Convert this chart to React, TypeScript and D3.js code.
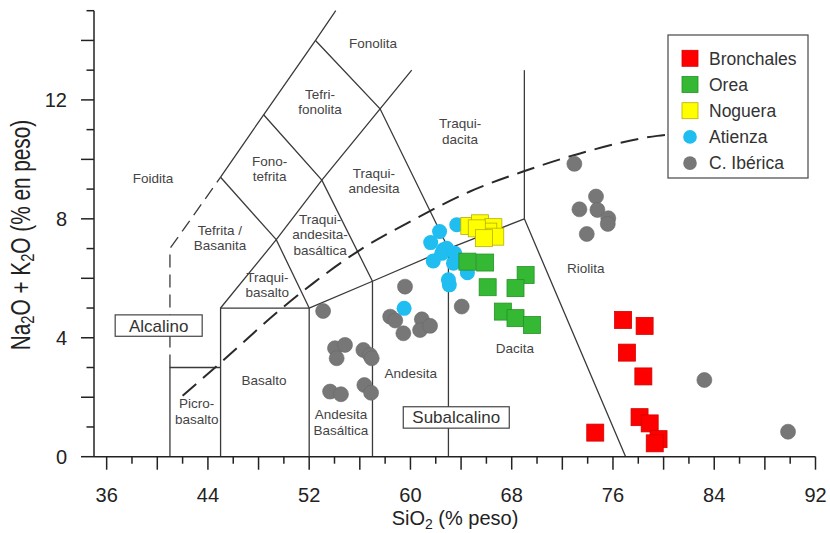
import React from "react";
import * as d3 from "d3";

// ---- Data ----
const bronchales: [number, number][] = [
  [76.8, 4.6], [78.5, 4.4], [77.1, 3.5], [78.4, 2.7], [78.1, 1.33],
  [78.9, 1.12], [79.6, 0.59], [79.3, 0.45], [74.6, 0.81],
];
const orea: [number, number][] = [
  [64.5, 6.56], [65.9, 6.53], [66.1, 5.7], [69.1, 6.11], [68.3, 5.67],
  [67.3, 4.88], [68.3, 4.66], [69.6, 4.43],
];
const noguera: [number, number][] = [
  [64.65, 7.76], [65.5, 7.85], [66.55, 7.72], [66.15, 7.57], [65.24, 7.68],
  [66.7, 7.4], [65.8, 7.35],
];
const atienza: [number, number][] = [
  [62.3, 7.57], [63.66, 7.8], [61.6, 7.2], [62.6, 6.96], [62.86, 7.01],
  [62.47, 6.84], [63.5, 6.84], [61.8, 6.58], [63.4, 6.51], [64.5, 6.19],
  [63.0, 5.95], [63.07, 5.78], [59.5, 4.99],
];
const iberica: [number, number][] = [
  [53.1, 4.9], [59.57, 5.72], [64.05, 5.05], [58.4, 4.71], [58.8, 4.58],
  [59.44, 4.15], [60.9, 4.62], [60.76, 4.26], [61.55, 4.4],
  [54.04, 3.65], [54.83, 3.76], [54.17, 3.31],
  [56.28, 3.59], [56.8, 3.42], [56.94, 3.31],
  [53.65, 2.19], [54.51, 2.1], [56.36, 2.41], [56.89, 2.15],
  [72.95, 9.85], [74.66, 8.75], [73.35, 8.32], [74.77, 8.3], [75.63, 8.02],
  [75.59, 7.83], [73.93, 7.49], [83.22, 2.58], [89.83, 0.84],
];

const legendNames = ["Bronchales", "Orea", "Noguera", "Atienza", "C. Ibérica"];

const xTickLabels = [36, 44, 52, 60, 68, 76, 84, 92];
const yTickLabels = [0, 4, 8, 12];

// TAS field boundaries (SiO2, Na2O+K2O)
const solidLines: [number, number][][] = [
  [[41, 0], [41, 3], [45, 3]],
  [[45, 0], [45, 5], [52, 5], [52, 0]],
  [[45, 5], [49.4, 7.3], [52, 5]],
  [[52, 5], [57, 5.9], [63, 7], [69, 8], [77, 0]],
  [[57, 0], [57, 5.9]],
  [[63, 0], [63, 7]],
  [[69, 8], [69, 13]],
  [[45, 9.4], [48.4, 11.5], [52.5, 14], [54.1, 15]],
  [[45, 9.4], [49.4, 7.3]],
  [[48.4, 11.5], [53, 9.3], [57, 5.9]],
  [[49.4, 7.3], [53, 9.3], [57.6, 11.7], [60.1, 13]],
  [[52.5, 14], [57.6, 11.7], [63, 7]],
];
const dashedLines: [number, number][][] = [
  [[41, 3], [41, 7], [45, 9.4]],
];
// Alkaline / subalkaline divide
const alkCurve: [number, number][] = [
  [42.0, 2.05], [44.95, 3.14], [49.7, 4.94], [52.3, 5.83], [56.0, 6.95],
  [60.2, 7.96], [64.7, 8.92], [68.9, 9.59], [73.4, 10.2], [79.5, 10.79],
  [82.1, 10.88],
];

const fieldLabels: { lines: string[]; x: number; y: number }[] = [
  { lines: ["Fonolita"], x: 57.04, y: 13.74 },
  { lines: ["Tefri-", "fonolita"], x: 52.86, y: 12.04 },
  { lines: ["Fono-", "tefrita"], x: 48.87, y: 9.78 },
  { lines: ["Foidita"], x: 39.66, y: 9.22 },
  { lines: ["Traqui-", "andesita"], x: 57.12, y: 9.38 },
  { lines: ["Traqui-", "dacita"], x: 63.92, y: 11.05 },
  { lines: ["Tefrita /", "Basanita"], x: 44.95, y: 7.46 },
  { lines: ["Traqui-", "andesita-", "basáltica"], x: 52.86, y: 7.83 },
  { lines: ["Traqui-", "basalto"], x: 48.69, y: 5.89 },
  { lines: ["Basalto"], x: 48.43, y: 2.41 },
  { lines: ["Andesita"], x: 60.02, y: 2.64 },
  { lines: ["Dacita"], x: 68.26, y: 3.48 },
  { lines: ["Riolita"], x: 73.85, y: 6.19 },
  { lines: ["Picro-", "basalto"], x: 43.11, y: 1.63 },
  { lines: ["Andesita", "Basáltica"], x: 54.51, y: 1.26 },
];

const seriesBoxes: { text: string; x: number; y: number; w: number }[] = [
  { text: "Alcalino", x: 40.11, y: 4.41, w: 87 },
  { text: "Subalcalino", x: 63.62, y: 1.32, w: 106 },
];

// ---- Chart ----
const W = 830;
const H = 533;
const FONT = "'Liberation Sans', Arial, Helvetica, sans-serif";

export default function App() {
  const x = d3.scaleLinear().domain([35, 92]).range([94, 815.5]);
  const y = d3.scaleLinear().domain([0, 15]).range([456.7, 10.7]);
  const line = d3.line<[number, number]>().x((d) => x(d[0])).y((d) => y(d[1]));
  const curve = d3
    .line<[number, number]>()
    .x((d) => x(d[0]))
    .y((d) => y(d[1]))
    .curve(d3.curveMonotoneX);

  const xTicks = d3.range(36, 92.01, 2);
  const yTicks = d3.range(0, 15.01, 1);

  const sq = 17;
  const r = 7.5;

  const colors = {
    red: { fill: "#ff0000", stroke: "#d40000" },
    green: { fill: "#35b935", stroke: "#239323" },
    yellow: { fill: "#ffff00", stroke: "#b5b000" },
    cyan: { fill: "#1fbdf0", stroke: "#1fbdf0" },
    gray: { fill: "#777777", stroke: "#6a6a6a" },
  };
  const legendStyles = [
    { shape: "square", ...colors.red },
    { shape: "square", ...colors.green },
    { shape: "square", ...colors.yellow },
    { shape: "circle", ...colors.cyan },
    { shape: "circle", ...colors.gray },
  ];

  const lineColor = "#3a3a3a";

  return (
    <svg
      width={W}
      height={H}
      style={{ position: "absolute", left: 0, top: 0, background: "#fff" }}
      fontFamily={FONT}
    >
      <rect x={0} y={0} width={W} height={H} fill="#fff" />

      {/* field boundaries */}
      {solidLines.map((pts, i) => (
        <path key={"s" + i} d={line(pts) || ""} fill="none" stroke={lineColor} strokeWidth={1.3} />
      ))}
      {dashedLines.map((pts, i) => (
        <path
          key={"d" + i}
          d={line(pts) || ""}
          fill="none"
          stroke={lineColor}
          strokeWidth={1.3}
          strokeDasharray="13 7"
        />
      ))}
      <path
        d={curve(alkCurve) || ""}
        fill="none"
        stroke="#2a2a2a"
        strokeWidth={2}
        strokeDasharray="18 9"
      />

      {/* field labels */}
      {fieldLabels.map((lb, i) => (
        <text
          key={"l" + i}
          x={x(lb.x)}
          y={y(lb.y)}
          textAnchor="middle"
          fontSize={13.5}
          fill="#444"
        >
          {lb.lines.map((t, j) => (
            <tspan key={j} x={x(lb.x)} dy={j === 0 ? 0 : 15.5}>
              {t}
            </tspan>
          ))}
        </text>
      ))}

      {/* series boxes */}
      {seriesBoxes.map((b, i) => (
        <g key={"b" + i}>
          <rect
            x={x(b.x) - b.w / 2}
            y={y(b.y) - 10.7}
            width={b.w}
            height={21.4}
            fill="#fff"
            stroke="#444"
            strokeWidth={1.2}
          />
          <text x={x(b.x)} y={y(b.y) + 6} textAnchor="middle" fontSize={17} fill="#333">
            {b.text}
          </text>
        </g>
      ))}

      {/* data points */}
      {iberica.map((d, i) => (
        <circle key={"g" + i} cx={x(d[0])} cy={y(d[1])} r={r} fill={colors.gray.fill} stroke={colors.gray.stroke} strokeWidth={0.6} />
      ))}
      {atienza.map((d, i) => (
        <circle key={"c" + i} cx={x(d[0])} cy={y(d[1])} r={r} fill={colors.cyan.fill} />
      ))}
      {noguera.map((d, i) => (
        <rect key={"y" + i} x={x(d[0]) - sq / 2} y={y(d[1]) - sq / 2} width={sq} height={sq} fill={colors.yellow.fill} stroke={colors.yellow.stroke} strokeWidth={0.8} />
      ))}
      {orea.map((d, i) => (
        <rect key={"o" + i} x={x(d[0]) - sq / 2} y={y(d[1]) - sq / 2} width={sq} height={sq} fill={colors.green.fill} stroke={colors.green.stroke} strokeWidth={0.8} />
      ))}
      {bronchales.map((d, i) => (
        <rect key={"r" + i} x={x(d[0]) - sq / 2} y={y(d[1]) - sq / 2} width={sq} height={sq} fill={colors.red.fill} stroke={colors.red.stroke} strokeWidth={0.8} />
      ))}

      {/* axes */}
      <line x1={x(35)} x2={x(92)} y1={y(0)} y2={y(0)} stroke="#222" strokeWidth={1.5} />
      <line x1={x(35)} x2={x(35)} y1={y(0)} y2={y(15)} stroke="#222" strokeWidth={1.5} />
      {xTicks.map((t) => (
        <line
          key={"xt" + t}
          x1={x(t)}
          x2={x(t)}
          y1={y(0)}
          y2={y(0) + (t % 4 === 0 ? 13 : 7)}
          stroke="#222"
          strokeWidth={1.5}
        />
      ))}
      {yTicks.map((t) => (
        <line
          key={"yt" + t}
          x1={x(35) - (t % 2 === 0 ? 13 : 7.5)}
          x2={x(35)}
          y1={y(t)}
          y2={y(t)}
          stroke="#222"
          strokeWidth={1.5}
        />
      ))}
      {xTickLabels.map((t) => (
        <text key={"xl" + t} x={x(t)} y={501.5} textAnchor="middle" fontSize={20} fill="#222">
          {t}
        </text>
      ))}
      {yTickLabels.map((t) => (
        <text key={"yl" + t} x={67} y={y(t)} dy="0.36em" textAnchor="end" fontSize={20} fill="#222">
          {t}
        </text>
      ))}

      {/* axis titles */}
      <text x={455} y={525} textAnchor="middle" fontSize={20} fill="#222">
        SiO<tspan baselineShift="-25%" fontSize={14}>2</tspan> (% peso)
      </text>
      <text
        transform="translate(30,235) rotate(-90) scale(0.77,1)"
        textAnchor="middle"
        fontSize={27}
        fill="#222"
      >
        Na<tspan baselineShift="-25%" fontSize={19}>2</tspan>O + K<tspan baselineShift="-25%" fontSize={19}>2</tspan>O (% en peso)
      </text>

      {/* legend */}
      <rect x={668} y={35} width={140} height={143} fill="#fff" stroke="#555" strokeWidth={1.3} />
      {legendNames.map((name, i) => {
        const cy = 58.3 + i * 26.2;
        const st = legendStyles[i];
        return (
          <g key={"lg" + i}>
            {st.shape === "square" ? (
              <rect x={682} y={cy - 8} width={16} height={16} fill={st.fill} stroke={st.stroke} strokeWidth={0.8} />
            ) : (
              <circle cx={690} cy={cy} r={6.8} fill={st.fill} />
            )}
            <text x={709} y={cy + 6.3} fontSize={17.5} fill="#333">
              {name}
            </text>
          </g>
        );
      })}
    </svg>
  );
}
